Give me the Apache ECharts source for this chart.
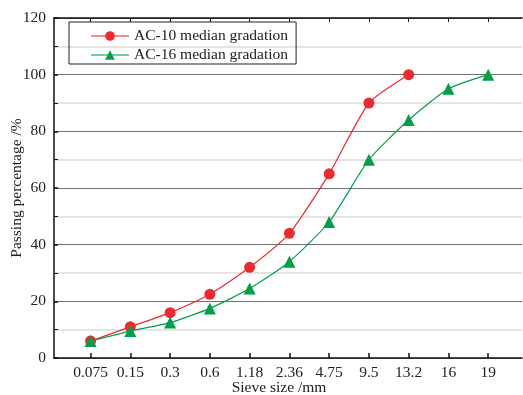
<!DOCTYPE html>
<html>
<head>
<meta charset="utf-8">
<script src="https://cdn.jsdelivr.net/npm/echarts@6/dist/echarts.min.js"></script>
<style>html,body{margin:0;padding:0;background:#fff}#c{width:523px;height:395px}</style>
</head>
<body>
<div id="c"></div>
<script>
var sieveSizes = ['0.075', '0.15', '0.3', '0.6', '1.18', '2.36', '4.75', '9.5', '13.2', '16', '19'];
var ac10Values = [6, 11, 16, 22.5, 32, 44, 65, 90, 100];
var ac16Values = [6, 9.5, 12.5, 17.5, 24.5, 34, 48, 70, 84, 95, 100];
var yTicks = [0, 20, 40, 60, 80, 100, 120];

var FONT = '"Liberation Serif", "DejaVu Serif", serif';
var idx = sieveSizes.map(function (_, i) { return i; });
function pairs(vals) { return vals.map(function (v, i) { return [i, v]; }); }

var chart = echarts.init(document.getElementById('c'));
chart.setOption({
  animation: false,
  grid: { left: 54, right: 1, top: 18, bottom: 37, containLabel: false, outerBoundsMode: 'none' },
  legend: {
    left: 69, top: 22, orient: 'vertical',
    borderColor: '#222', borderWidth: 1,
    padding: [6, 8, 1, 21],
    itemWidth: 38, itemHeight: 12, itemGap: 3,
    textStyle: { fontFamily: FONT, fontSize: 15.5, color: '#222' },
    data: [
      { name: 'AC-10 median gradation', lineStyle: { color: 'rgba(238,45,50,0.55)', width: 2 } },
      { name: 'AC-16 median gradation', lineStyle: { color: 'rgba(0,160,80,0.55)', width: 2 } }
    ]
  },
  xAxis: [{
    type: 'value', min: -0.92, max: 10.85,
    name: 'Sieve size /mm', nameLocation: 'middle', nameGap: 22, nameMoveOverlap: false,
    nameTextStyle: { fontFamily: FONT, fontSize: 15.5, color: '#222', padding: [0, 18, 0, 0] },
    axisLine: { show: true, onZero: false, lineStyle: { color: '#111', width: 1.5 } },
    axisTick: { show: true, inside: true, length: 5, customValues: idx, lineStyle: { color: '#111', width: 1.5 } },
    axisLabel: { customValues: idx, margin: 7, fontFamily: FONT, fontSize: 15.5, color: '#222',
      formatter: function (v) { return sieveSizes[Math.round(v)]; } },
    splitLine: { show: false }
  }, {
    type: 'value', position: 'top', min: -0.92, max: 10.85,
    axisLine: { show: true, onZero: false, lineStyle: { color: '#111', width: 1.5 } },
    axisTick: { show: true, inside: true, length: 4, customValues: idx, lineStyle: { color: '#111', width: 1 } },
    axisLabel: { show: false },
    splitLine: { show: false }
  }],
  yAxis: {
    type: 'value', min: 0, max: 120, interval: 20,
    name: 'Passing percentage /%', nameLocation: 'middle', nameGap: 29, nameMoveOverlap: false,
    nameTextStyle: { fontFamily: FONT, fontSize: 15.5, color: '#222' },
    axisLine: { show: true, onZero: false, lineStyle: { color: '#111', width: 1.5 } },
    axisTick: { show: true, inside: true, length: 4, lineStyle: { color: '#111', width: 1.5 } },
    minorTick: { show: true, splitNumber: 2, length: 4, lineStyle: { color: '#111', width: 1 } },
    axisLabel: { margin: 8, fontFamily: FONT, fontSize: 15.5, color: '#222', customValues: yTicks },
    splitLine: { show: true, lineStyle: { color: '#707070', width: 1 } },
    minorSplitLine: { show: true, lineStyle: { color: '#dcdcdc', width: 1.5 } }
  },
  series: [{
    name: 'AC-10 median gradation', type: 'line', data: pairs(ac10Values),
    smooth: 0.2, symbol: 'circle', symbolSize: 11,
    itemStyle: { color: '#ee2a2f' },
    lineStyle: { color: '#ee2a2f', width: 1.2 }
  }, {
    name: 'AC-16 median gradation', type: 'line', data: pairs(ac16Values),
    smooth: 0.2, symbol: 'triangle', symbolSize: 12,
    itemStyle: { color: '#00a04b' },
    lineStyle: { color: '#00a04b', width: 1.2 }
  }]
});
</script>
</body>
</html>
